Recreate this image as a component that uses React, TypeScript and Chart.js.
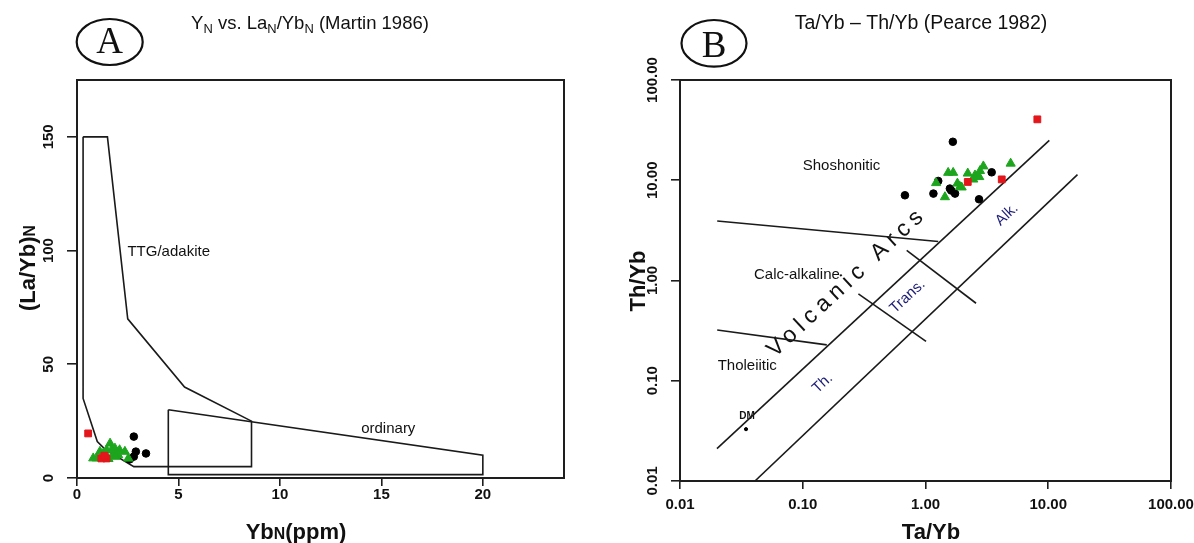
import React, { useEffect, useRef } from 'react';
import { Chart, registerables } from 'chart.js';

Chart.register(...registerables);

const SANS = "'Liberation Sans', Arial, sans-serif";
const SERIF = "'Liberation Serif', 'Times New Roman', serif";

// ---------------- Panel A : YbN vs (La/Yb)N (Martin 1986) ----------------
const xTicksA = [0, 5, 10, 15, 20];
const yTicksA = [0, 50, 100, 150];

const ttgX = [0.3, 1.5, 2.5, 5.3, 8.6, 8.6, 2.8, 1.4, 1.0, 0.3, 0.3];
const ttgY = [150, 150, 70, 40, 25, 5, 5, 12.5, 16, 35, 150];

const ordinaryX = [4.5, 20, 20, 4.5, 4.5];
const ordinaryY = [30, 10, 1.5, 1.5, 30];

const blackAX = [2.8, 2.9, 2.8, 3.4, 2.6];
const blackAY = [18.2, 11.6, 9.4, 10.8, 8.2];
const greenAX = [1.63, 1.87, 1.46, 2.1, 2.36, 0.97, 0.8, 2.03, 1.79, 1.3, 1.7, 2.53, 1.55, 1.13, 1.9];
const greenAY = [15.2, 13.0, 12.3, 12.3, 11.6, 8.7, 8.7, 10.1, 10.1, 10.9, 12.3, 8.6, 8.4, 11.6, 9.4];
const redAX = [0.55, 1.2, 1.45, 1.35];
const redAY = [19.6, 8.6, 8.6, 9.8];

const labelTextA = ['TTG/adakite', 'ordinary'];
const labelXA = [4.52, 15.34];
const labelYA = [100, 22.3];

// ---------------- Panel B : Ta/Yb - Th/Yb (Pearce 1982) ----------------
const ticksB = [0.01, 0.1, 1, 10, 100];

const upperX = [0.02, 10.2];
const upperY = [0.021, 25];
const lowerX = [0.0408, 17.3];
const lowerY = [0.01, 11.4];
const shoDivX = [0.0201, 1.27];
const shoDivY = [3.92, 2.45];
const thoDivX = [0.0201, 0.157];
const thoDivY = [0.321, 0.228];
const alkDivX = [0.703, 2.58];
const alkDivY = [2.0, 0.593];
const thDivX = [0.284, 1.01];
const thDivY = [0.736, 0.247];

const blackBX = [1.67, 0.68, 1.16, 1.27, 1.58, 1.74, 3.46, 2.73, 1.62];
const blackBY = [24.2, 7.08, 7.36, 9.84, 8.26, 7.36, 12.0, 6.46, 7.9];
const greenBX = [1.53, 1.68, 2.21, 2.53, 2.96, 4.94, 1.22, 1.44, 1.91, 2.45, 2.78, 1.82, 1.97, 2.74];
const greenBY = [11.9, 11.9, 11.7, 11.2, 13.8, 14.7, 9.4, 6.8, 8.6, 10.2, 12.4, 9.3, 8.5, 10.8];
const redBX = [8.15, 2.21, 4.18];
const redBY = [40.5, 9.62, 10.2];
const dmX = [0.0345];
const dmY = [0.0329];

const labelTextB = ['Shoshonitic', 'Calc-alkaline', 'Tholeiitic'];
const labelXB = [0.207, 0.0897, 0.0353];
const labelYB = [14.4, 1.18, 0.1436];
const arcTextB = ['Volcanic Arcs'];
const arcXB = [0.225];
const arcYB = [1.0];
const blueTextB = ['Th.', 'Trans.', 'Alk.'];
const blueXB = [0.1425, 0.703, 4.53];
const blueYB = [0.096, 0.708, 4.64];
const dmText = ['DM'];
const dmLabelX = [0.0351];
const dmLabelY = [0.0447];

// ---------------- helpers ----------------
type Seg = { t: string; s?: number; dy?: number };

function drawSegs(
  ctx: CanvasRenderingContext2D,
  segs: Seg[],
  cx: number,
  cy: number,
  size: number,
  weight: string,
  rot = 0,
  color = '#111',
  family = SANS,
) {
  ctx.save();
  ctx.translate(cx, cy);
  ctx.rotate(rot);
  ctx.fillStyle = color;
  ctx.textAlign = 'left';
  ctx.textBaseline = 'alphabetic';
  let total = 0;
  const widths = segs.map((sg) => {
    ctx.font = `${weight} ${size * (sg.s ?? 1)}px ${family}`;
    const w = ctx.measureText(sg.t).width;
    total += w;
    return w;
  });
  let x = -total / 2;
  const base = size * 0.36;
  segs.forEach((sg, i) => {
    ctx.font = `${weight} ${size * (sg.s ?? 1)}px ${family}`;
    ctx.fillText(sg.t, x, base + (sg.dy ?? 0));
    x += widths[i];
  });
  ctx.restore();
}

type DataLabel = {
  texts: string[];
  xs: number[];
  ys: number[];
  size: number;
  weight?: string;
  color?: string;
  rot?: number;
  spacing?: number;
};

type Decor = {
  ellipse: { cx: number; cy: number; rx: number; ry: number; letter: string; base: number };
  title: { segs: Seg[]; cx: number; cy: number; size: number };
  xTitle: { segs: Seg[]; cx: number; cy: number; size: number };
  yTitle: { segs: Seg[]; cx: number; cy: number; size: number };
  labels: DataLabel[];
};

function makeDecor(d: Decor) {
  return {
    id: 'decor',
    beforeDatasetsDraw(chart: any) {
      const ctx: CanvasRenderingContext2D = chart.ctx;
      const a = chart.chartArea;
      ctx.save();
      ctx.strokeStyle = '#1e1e1e';
      ctx.lineWidth = 2;
      ctx.strokeRect(a.left, a.top, a.right - a.left, a.bottom - a.top);
      ctx.restore();
      const sx = chart.scales.x;
      const sy = chart.scales.y;
      d.labels.forEach((lb) => {
        lb.texts.forEach((t, i) => {
          const px = sx.getPixelForValue(lb.xs[i]);
          const py = sy.getPixelForValue(lb.ys[i]);
          ctx.save();
          if (lb.spacing) (ctx as any).letterSpacing = `${lb.spacing}px`;
          drawSegs(ctx, [{ t }], px, py, lb.size, lb.weight ?? 'normal', lb.rot ?? 0, lb.color ?? '#111');
          ctx.restore();
        });
      });
    },
    afterDraw(chart: any) {
      const ctx: CanvasRenderingContext2D = chart.ctx;
      const e = d.ellipse;
      ctx.save();
      ctx.strokeStyle = '#111';
      ctx.lineWidth = 2.2;
      ctx.beginPath();
      ctx.ellipse(e.cx, e.cy, e.rx, e.ry, 0, 0, Math.PI * 2);
      ctx.stroke();
      ctx.fillStyle = '#111';
      ctx.font = `normal 37px ${SERIF}`;
      ctx.textAlign = 'center';
      ctx.textBaseline = 'alphabetic';
      ctx.fillText(e.letter, e.cx, e.base);
      ctx.restore();
      drawSegs(ctx, d.title.segs, d.title.cx, d.title.cy, d.title.size, 'normal');
      drawSegs(ctx, d.xTitle.segs, d.xTitle.cx, d.xTitle.cy, d.xTitle.size, 'bold');
      drawSegs(ctx, d.yTitle.segs, d.yTitle.cx, d.yTitle.cy, d.yTitle.size, 'bold', -Math.PI / 2);
    },
  };
}

const zip = (xs: number[], ys: number[]) => xs.map((x, i) => ({ x, y: ys[i] }));

const pointDs = (xs: number[], ys: number[], style: string, radius: number, color: string) => ({
  data: zip(xs, ys),
  pointStyle: style,
  pointRadius: radius,
  pointHoverRadius: radius,
  pointBackgroundColor: color,
  pointBorderColor: color,
  pointBorderWidth: 1,
  showLine: false,
});

const lineDs = (xs: number[], ys: number[]) => ({
  data: zip(xs, ys),
  showLine: true,
  borderColor: '#1a1a1a',
  borderWidth: 1.6,
  pointRadius: 0,
  pointHoverRadius: 0,
  fill: false,
  tension: 0,
});

const tickFont = { family: SANS, size: 15, weight: 'bold' as const };

function axis(
  type: string,
  min: number,
  max: number,
  ticks: number[],
  size: { w?: number; h?: number },
  tl: number,
  pad: number,
  vertical: boolean,
  fmt?: (v: number) => string,
) {
  return {
    type,
    min,
    max,
    afterBuildTicks: (s: any) => {
      s.ticks = ticks.map((v) => ({ value: v }));
    },
    afterFit: (s: any) => {
      if (size.w !== undefined) s.width = size.w;
      if (size.h !== undefined) s.height = size.h;
    },
    grid: {
      display: true,
      drawOnChartArea: false,
      drawTicks: true,
      tickLength: tl,
      color: '#1e1e1e',
      lineWidth: 1.6,
    },
    border: { display: false },
    ticks: {
      font: tickFont,
      color: '#111',
      padding: pad,
      autoSkip: false,
      minRotation: vertical ? 90 : 0,
      maxRotation: vertical ? 90 : 0,
      crossAlign: 'center',
      callback: (v: any) => (fmt ? fmt(Number(v)) : String(v)),
    },
  };
}

const RED = '#e3161b';
const GREEN = '#1da51d';
const BLACK = '#000000';

function buildA(): any {
  return {
    type: 'scatter',
    data: {
      datasets: [
        pointDs(redAX, redAY, 'rect', 4.8, RED),
        pointDs(greenAX, greenAY, 'triangle', 5.3, GREEN),
        pointDs(blackAX, blackAY, 'circle', 3.8, BLACK),
        lineDs(ordinaryX, ordinaryY),
        lineDs(ttgX, ttgY),
      ],
    },
    options: {
      animation: false,
      responsive: false,
      devicePixelRatio: 1,
      layout: { padding: { top: 80, left: 0, right: 33, bottom: 0 } },
      plugins: { legend: { display: false }, tooltip: { enabled: false } },
      scales: {
        x: axis('linear', 0, 24, xTicksA, { h: 65 }, 8, 9, false),
        y: axis('linear', 0, 175, yTicksA, { w: 77 }, 10, 5.5, true),
      },
    },
    plugins: [
      makeDecor({
        ellipse: { cx: 109.7, cy: 42, rx: 33, ry: 23, letter: 'A', base: 53.3 },
        title: {
          segs: [
            { t: 'Y' },
            { t: 'N', s: 0.7, dy: 4 },
            { t: ' vs. La' },
            { t: 'N', s: 0.7, dy: 4 },
            { t: '/Yb' },
            { t: 'N', s: 0.7, dy: 4 },
            { t: ' (Martin 1986)' },
          ],
          cx: 310,
          cy: 22,
          size: 18.5,
        },
        xTitle: { segs: [{ t: 'Yb' }, { t: 'N', s: 0.72 }, { t: '(ppm)' }], cx: 296, cy: 531, size: 22 },
        yTitle: { segs: [{ t: '(La/Yb)' }, { t: 'N', s: 0.72 }], cx: 27, cy: 268, size: 22 },
        labels: [{ texts: labelTextA, xs: labelXA, ys: labelYA, size: 15 }],
      }),
    ],
  };
}

function buildB(): any {
  const fmt = (v: number) => v.toFixed(2);
  return {
    type: 'scatter',
    data: {
      datasets: [
        pointDs(redBX, redBY, 'rect', 4.8, RED),
        pointDs(greenBX, greenBY, 'triangle', 5.3, GREEN),
        pointDs(blackBX, blackBY, 'circle', 3.8, BLACK),
        pointDs(dmX, dmY, 'circle', 1.6, BLACK),
        lineDs(upperX, upperY),
        lineDs(lowerX, lowerY),
        lineDs(shoDivX, shoDivY),
        lineDs(thoDivX, thoDivY),
        lineDs(alkDivX, alkDivY),
        lineDs(thDivX, thDivY),
      ],
    },
    options: {
      animation: false,
      responsive: false,
      devicePixelRatio: 1,
      layout: { padding: { top: 80, left: 0, right: 45, bottom: 0 } },
      plugins: { legend: { display: false }, tooltip: { enabled: false } },
      scales: {
        x: axis('logarithmic', 0.01, 100, ticksB, { h: 62 }, 8, 16, false, fmt),
        y: axis('logarithmic', 0.01, 100, ticksB, { w: 83 }, 9, -5, true, fmt),
      },
    },
    plugins: [
      makeDecor({
        ellipse: { cx: 117, cy: 43.3, rx: 32.5, ry: 23.3, letter: 'B', base: 56.7 },
        title: { segs: [{ t: 'Ta/Yb \u2013 Th/Yb (Pearce 1982)' }], cx: 324, cy: 22, size: 19.5 },
        xTitle: { segs: [{ t: 'Ta/Yb' }], cx: 334, cy: 531, size: 22 },
        yTitle: { segs: [{ t: 'Th/Yb' }], cx: 40, cy: 281, size: 22 },
        labels: [
          { texts: labelTextB, xs: labelXB, ys: labelYB, size: 15 },
          { texts: arcTextB, xs: arcXB, ys: arcYB, size: 23, rot: (-43 * Math.PI) / 180, spacing: 5.5 },
          { texts: blueTextB, xs: blueXB, ys: blueYB, size: 15, rot: (-43 * Math.PI) / 180, color: '#1c1c78' },
          { texts: dmText, xs: dmLabelX, ys: dmLabelY, size: 10, weight: 'bold' },
        ],
      }),
    ],
  };
}

function Panel({ left, width, build }: { left: number; width: number; build: () => any }) {
  const ref = useRef<HTMLCanvasElement>(null);
  useEffect(() => {
    const chart = new Chart(ref.current as HTMLCanvasElement, build());
    return () => chart.destroy();
  }, []);
  return (
    <canvas
      ref={ref}
      width={width}
      height={543}
      style={{ position: 'absolute', left, top: 0, width, height: 543 }}
    />
  );
}

export default function App() {
  return (
    <div
      style={{
        position: 'absolute',
        left: 0,
        top: 0,
        width: 1194,
        height: 543,
        background: '#ffffff',
        overflow: 'hidden',
      }}
    >
      <Panel left={0} width={597} build={buildA} />
      <Panel left={597} width={619} build={buildB} />
    </div>
  );
}
